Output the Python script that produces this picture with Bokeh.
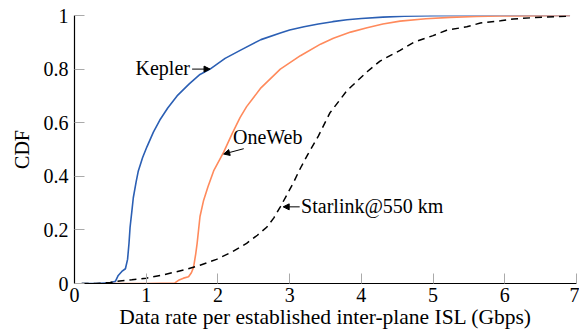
from bokeh.plotting import figure
from bokeh.models import Arrow, NormalHead, Label, FixedTicker, Range1d
from bokeh.embed import file_html
from bokeh.resources import INLINE

# ---- data ----
kepler_x = [0.1, 0.3, 0.5, 0.57, 0.61, 0.66, 0.71, 0.74, 0.76, 0.775, 0.8, 0.82, 0.86, 0.89, 0.95, 1.01,
            1.1, 1.19, 1.3, 1.43, 1.6, 1.75, 1.89, 2.1, 2.31, 2.6, 2.87, 3.0, 3.2, 3.4, 3.6, 3.8, 4.0, 4.3,
            4.6, 5.0, 5.5, 6.0, 6.91]
kepler_y = [0.0, 0.0, 0.003, 0.008, 0.03, 0.045, 0.055, 0.09, 0.15, 0.21, 0.27, 0.32, 0.38, 0.42, 0.47, 0.51,
            0.565, 0.61, 0.655, 0.70, 0.745, 0.78, 0.80, 0.84, 0.87, 0.91, 0.935, 0.946, 0.958, 0.968, 0.977, 0.984,
            0.989, 0.994, 0.997, 0.999, 1.0, 1.0, 1.0]

oneweb_x = [0.5, 1.0, 1.4, 1.45, 1.52, 1.59, 1.63, 1.66, 1.69, 1.71, 1.75, 1.8, 1.86, 1.94, 2.08, 2.2, 2.31,
            2.4, 2.6, 2.87, 3.15, 3.43, 3.61, 3.85, 4.08, 4.3, 4.54, 4.9, 5.24, 5.6, 5.94, 6.91]
oneweb_y = [0.0, 0.0, 0.002, 0.012, 0.02, 0.025, 0.04, 0.06, 0.11, 0.15, 0.25, 0.31, 0.36, 0.42, 0.49, 0.56, 0.62,
            0.66, 0.73, 0.80, 0.85, 0.893, 0.915, 0.938, 0.954, 0.968, 0.979, 0.988, 0.993, 0.996, 0.998, 1.0]

starlink_x = [0.1, 0.3, 0.5, 0.57, 0.8, 1.0, 1.25, 1.52, 1.75, 1.98, 2.2, 2.4, 2.55, 2.68, 2.78, 2.87, 2.96,
              3.05, 3.15, 3.25, 3.4, 3.56, 3.8, 4.08, 4.26, 4.54, 4.73, 5.0, 5.19, 5.47, 5.66, 5.94, 6.12, 6.4, 6.91]
starlink_y = [0.0, 0.0, 0.004, 0.008, 0.014, 0.02, 0.033, 0.05, 0.068, 0.09, 0.118, 0.15, 0.18, 0.21, 0.245, 0.286, 0.33,
              0.375, 0.43, 0.48, 0.55, 0.636, 0.72, 0.79, 0.83, 0.87, 0.9, 0.925, 0.945, 0.958, 0.972, 0.98, 0.987, 0.992, 0.998]

x_ticks = [0, 1, 2, 3, 4, 5, 6, 7]
y_ticks = [0, 0.2, 0.4, 0.6, 0.8, 1]
y_tick_labels = {0: "0", 0.2: "0.2", 0.4: "0.4", 0.6: "0.6", 0.8: "0.8", 1: "1"}

# annotations: label, tip point on curve, tail point, text position, text align
ann_labels = ["Kepler", "OneWeb", "Starlink@550 km"]
ann_tip_x = [1.89, 2.08, 2.91]
ann_tip_y = [0.80, 0.483, 0.286]
ann_tail_x = [1.64, 2.36, 3.14]
ann_tail_y = [0.80, 0.503, 0.286]
ann_text_x = [1.61, 2.21, 3.16]
ann_text_y = [0.805, 0.545, 0.29]
ann_align = ["right", "left", "left"]

FONT = "'Liberation Serif', 'Times New Roman', serif"
FS = "20px"

p = figure(width=579, height=334, output_backend="svg", toolbar_location=None,
           x_range=Range1d(0, 7), y_range=Range1d(0, 1),
           min_border_left=74, min_border_right=3, min_border_top=15, min_border_bottom=51)
p.outline_line_color = None
p.grid.visible = False
p.background_fill_color = "white"
p.border_fill_color = "white"

p.line(kepler_x, kepler_y, line_color="#2b5fb4", line_width=1.6)
p.line(oneweb_x, oneweb_y, line_color="#ff8a5c", line_width=1.6)
p.line(starlink_x, starlink_y, line_color="black", line_width=1.5, line_dash="7 5")

for lab, tx, ty, sx, sy, lx, ly, al in zip(ann_labels, ann_tip_x, ann_tip_y, ann_tail_x, ann_tail_y,
                                         ann_text_x, ann_text_y, ann_align):
    p.add_layout(Arrow(end=NormalHead(size=6, fill_color="black", line_color="black", line_width=1),
                       x_start=sx, y_start=sy, x_end=tx, y_end=ty, line_color="black", line_width=1))
    p.add_layout(Label(x=lx, y=ly, text=lab, text_align=al, text_baseline="middle",
                       text_font=FONT, text_font_size=FS, text_color="black"))

for ax in (p.xaxis[0], p.yaxis[0]):
    ax.axis_line_color = "black"
    ax.axis_line_width = 1.2
    ax.major_tick_in = 10
    ax.major_tick_out = 0
    ax.minor_tick_line_color = None
    ax.major_tick_line_color = "#aaaaaa"
    ax.major_label_text_font = FONT
    ax.major_label_text_font_size = FS
    ax.major_label_text_color = "black"
    ax.axis_label_text_font = FONT
    ax.axis_label_text_font_size = FS
    ax.axis_label_text_font_style = "normal"
    ax.axis_label_text_color = "black"

p.xaxis.ticker = FixedTicker(ticks=x_ticks)
p.yaxis.ticker = FixedTicker(ticks=y_ticks)
p.yaxis.major_label_overrides = y_tick_labels
p.xaxis.major_label_standoff = 4
p.yaxis.major_label_standoff = 6
p.xaxis.axis_label = "Data rate per established inter-plane ISL (Gbps)"
p.xaxis.axis_label_text_font_size = "21.5px"
p.yaxis.axis_label = "CDF"
p.xaxis.axis_label_standoff = 0
p.yaxis.axis_label_standoff = 8

open("out.html", "w").write(file_html(p, INLINE))
